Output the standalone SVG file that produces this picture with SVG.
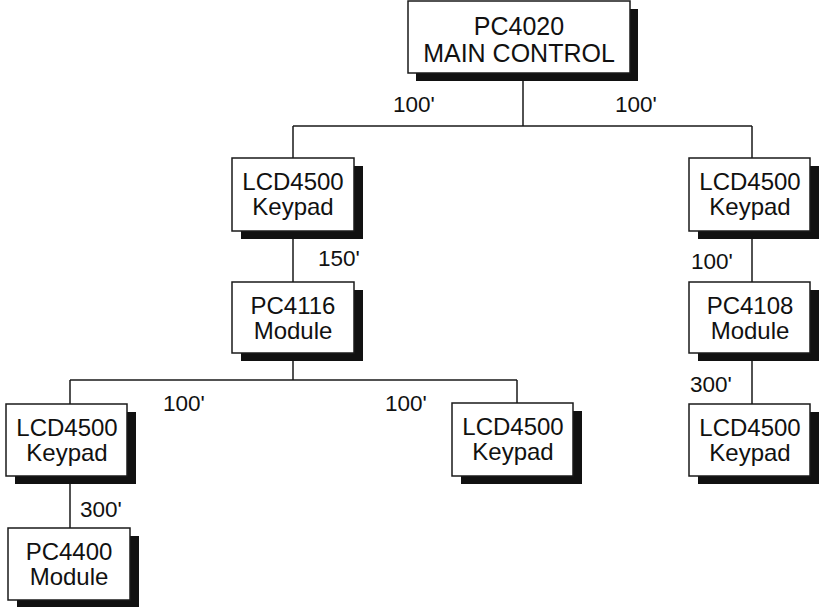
<svg xmlns="http://www.w3.org/2000/svg" width="819" height="607" viewBox="0 0 819 607">
<style>
.box{fill:#fff;stroke:#1a1a1a;stroke-width:1.5}
.sh{fill:#111}
.t{font-family:"Liberation Sans",Arial,sans-serif;font-size:24px;fill:#111;text-anchor:middle}
.tm{font-family:"Liberation Sans",Arial,sans-serif;font-size:25px;fill:#111;text-anchor:middle}
.lb{font-family:"Liberation Sans",Arial,sans-serif;font-size:22.5px;fill:#111}
.c{stroke:#1a1a1a;stroke-width:1.5;fill:none}
</style>
<rect width="819" height="607" fill="#fff"/>
<g id="connectors">
<path class="c" d="M523 73V126M293 126H752M293 126V158M752 126V158M293 231V282M752 231V282M752 353V404M293 353V380M70 380H517M70 380V404M517 380V403M70 476V528"/>
<text class="lb" x="393" y="112">100'</text>
<text class="lb" x="615" y="112">100'</text>
<text class="lb" x="318" y="266">150'</text>
<text class="lb" x="691" y="269">100'</text>
<text class="lb" x="163" y="411">100'</text>
<text class="lb" x="385" y="411">100'</text>
<text class="lb" x="80" y="517">300'</text>
<text class="lb" x="690" y="392">300'</text>
</g>
<g id="main">
<rect class="sh" x="416" y="9" width="222" height="72"/>
<rect class="box" x="408" y="1" width="222" height="72"/>
<text class="tm" x="519" y="35">PC4020</text>
<text class="tm" x="519" y="62">MAIN CONTROL</text>
</g>
<g id="lcd-l1">
<rect class="sh" x="241" y="166" width="122" height="73"/>
<rect class="box" x="232" y="158" width="122" height="73"/>
<text class="t" x="293" y="190">LCD4500</text>
<text class="t" x="293" y="215">Keypad</text>
</g>
<g id="lcd-r1">
<rect class="sh" x="698" y="166" width="121" height="73"/>
<rect class="box" x="689" y="158" width="121" height="73"/>
<text class="t" x="750" y="190">LCD4500</text>
<text class="t" x="750" y="215">Keypad</text>
</g>
<g id="pc4116">
<rect class="sh" x="241" y="290" width="122" height="71"/>
<rect class="box" x="232" y="282" width="122" height="71"/>
<text class="t" x="293" y="314">PC4116</text>
<text class="t" x="293" y="339">Module</text>
</g>
<g id="pc4108">
<rect class="sh" x="698" y="290" width="121" height="71"/>
<rect class="box" x="689" y="282" width="121" height="71"/>
<text class="t" x="750" y="314">PC4108</text>
<text class="t" x="750" y="339">Module</text>
</g>
<g id="lcd-ll">
<rect class="sh" x="15" y="412" width="121" height="72"/>
<rect class="box" x="6" y="404" width="121" height="72"/>
<text class="t" x="67" y="436">LCD4500</text>
<text class="t" x="67" y="461">Keypad</text>
</g>
<g id="lcd-lm">
<rect class="sh" x="461" y="411" width="121" height="73"/>
<rect class="box" x="452" y="403" width="121" height="73"/>
<text class="t" x="513" y="435">LCD4500</text>
<text class="t" x="513" y="460">Keypad</text>
</g>
<g id="lcd-rb">
<rect class="sh" x="698" y="412" width="121" height="72"/>
<rect class="box" x="689" y="404" width="121" height="72"/>
<text class="t" x="750" y="436">LCD4500</text>
<text class="t" x="750" y="461">Keypad</text>
</g>
<g id="pc4400">
<rect class="sh" x="17" y="536" width="122" height="72"/>
<rect class="box" x="8" y="528" width="122" height="72"/>
<text class="t" x="69" y="560">PC4400</text>
<text class="t" x="69" y="585">Module</text>
</g>
</svg>
